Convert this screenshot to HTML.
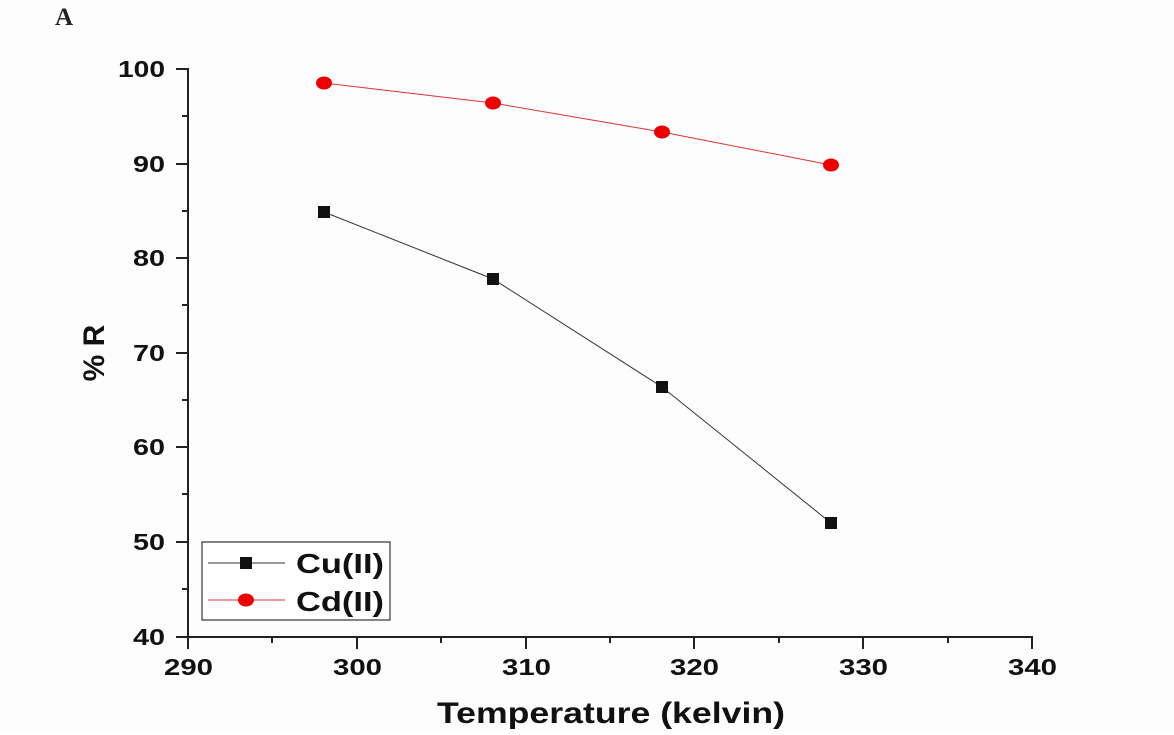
<!DOCTYPE html>
<html><head><style>body{margin:0;background:#fff}</style></head><body>
<svg width="1174" height="730" xmlns="http://www.w3.org/2000/svg" font-family="Liberation Sans, Arial, sans-serif" font-weight="bold">
<rect width="1174" height="730" fill="#fdfdfd"/>
<text x="55" y="25" font-family="Liberation Serif, serif" font-size="25" fill="#222">A</text>
<g stroke="#222" stroke-width="2" fill="none">
<line x1="188" y1="68" x2="188" y2="637"/>
<line x1="187" y1="637" x2="1033" y2="637"/>
<line x1="176" y1="69" x2="188" y2="69"/><line x1="176" y1="164" x2="188" y2="164"/><line x1="176" y1="258" x2="188" y2="258"/><line x1="176" y1="353" x2="188" y2="353"/><line x1="176" y1="447" x2="188" y2="447"/><line x1="176" y1="542" x2="188" y2="542"/><line x1="176" y1="637" x2="188" y2="637"/>
<line x1="182" y1="116" x2="188" y2="116"/><line x1="182" y1="211" x2="188" y2="211"/><line x1="182" y1="305" x2="188" y2="305"/><line x1="182" y1="400" x2="188" y2="400"/><line x1="182" y1="494" x2="188" y2="494"/><line x1="182" y1="589" x2="188" y2="589"/>
<line x1="188" y1="637" x2="188" y2="649"/><line x1="357" y1="637" x2="357" y2="649"/><line x1="526" y1="637" x2="526" y2="649"/><line x1="694" y1="637" x2="694" y2="649"/><line x1="863" y1="637" x2="863" y2="649"/><line x1="1032" y1="637" x2="1032" y2="649"/>
<line x1="272" y1="637" x2="272" y2="643"/><line x1="441" y1="637" x2="441" y2="643"/><line x1="610" y1="637" x2="610" y2="643"/><line x1="779" y1="637" x2="779" y2="643"/><line x1="948" y1="637" x2="948" y2="643"/>
</g>
<g font-size="23" fill="#111" text-anchor="end" lengthAdjust="spacingAndGlyphs">
<text x="165" y="77" textLength="47" lengthAdjust="spacingAndGlyphs">100</text><text x="165" y="172" textLength="32" lengthAdjust="spacingAndGlyphs">90</text><text x="165" y="266" textLength="32" lengthAdjust="spacingAndGlyphs">80</text><text x="165" y="361" textLength="32" lengthAdjust="spacingAndGlyphs">70</text><text x="165" y="455" textLength="32" lengthAdjust="spacingAndGlyphs">60</text><text x="165" y="550" textLength="32" lengthAdjust="spacingAndGlyphs">50</text><text x="165" y="645" textLength="32" lengthAdjust="spacingAndGlyphs">40</text>
</g>
<g font-size="23" fill="#111">
<text x="164" y="675" textLength="49" lengthAdjust="spacingAndGlyphs">290</text><text x="333" y="675" textLength="49" lengthAdjust="spacingAndGlyphs">300</text><text x="502" y="675" textLength="49" lengthAdjust="spacingAndGlyphs">310</text><text x="670" y="675" textLength="49" lengthAdjust="spacingAndGlyphs">320</text><text x="839" y="675" textLength="49" lengthAdjust="spacingAndGlyphs">330</text><text x="1008" y="675" textLength="49" lengthAdjust="spacingAndGlyphs">340</text>
</g>
<text x="437" y="723" font-size="30" fill="#111" textLength="348" lengthAdjust="spacingAndGlyphs">Temperature (kelvin)</text>
<text transform="translate(104,353) rotate(-90)" font-size="30" text-anchor="middle" fill="#111">% R</text>
<polyline points="324,212 493,279 662,387 831,523" fill="none" stroke="#333" stroke-width="1"/>
<polyline points="324,83 493,103 662,132 831,165" fill="none" stroke="#d33" stroke-width="1"/>
<g fill="#111"><rect x="318" y="206" width="12" height="12"/><rect x="487" y="273" width="12" height="12"/><rect x="656" y="381" width="12" height="12"/><rect x="825" y="517" width="12" height="12"/></g>
<g fill="#e00"><ellipse cx="324" cy="83" rx="8" ry="6.5"/><ellipse cx="493" cy="103" rx="8" ry="6.5"/><ellipse cx="662" cy="132" rx="8" ry="6.5"/><ellipse cx="831" cy="165" rx="8" ry="6.5"/></g>
<rect x="202" y="542" width="188" height="78" fill="#fff" stroke="#333" stroke-width="1.2"/>
<line x1="208" y1="563" x2="285" y2="563" stroke="#333" stroke-width="1"/>
<rect x="240" y="557" width="12" height="12" fill="#111"/>
<line x1="208" y1="600" x2="285" y2="600" stroke="#d33" stroke-width="1"/>
<ellipse cx="246" cy="600" rx="8" ry="6.5" fill="#e00"/>
<text x="296" y="573" font-size="28" fill="#111" textLength="88" lengthAdjust="spacingAndGlyphs">Cu(II)</text>
<text x="296" y="611" font-size="28" fill="#111" textLength="88" lengthAdjust="spacingAndGlyphs">Cd(II)</text>
</svg>
</body></html>
